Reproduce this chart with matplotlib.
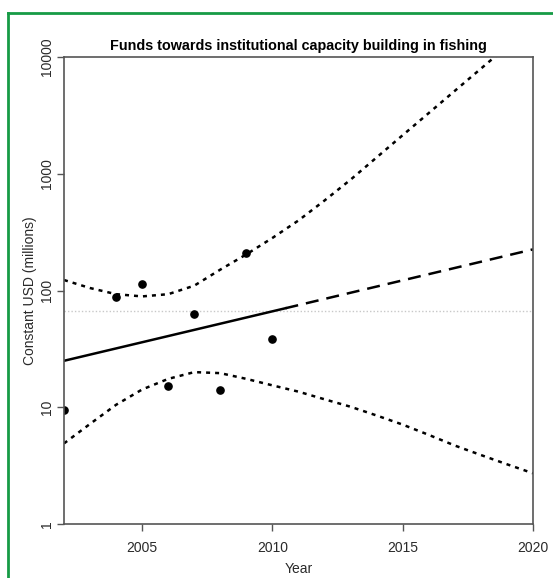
import matplotlib
matplotlib.use("Agg")
import matplotlib.pyplot as plt
from matplotlib.lines import Line2D
from matplotlib.ticker import NullLocator

# observed funding (constant USD, millions)
years = [2002, 2004, 2005, 2006, 2007, 2008, 2009, 2010]
funds = [9.4, 88.5, 113, 15.3, 63, 14.0, 211, 38.4]

# fitted trend: observed span (solid) and projection (dashed)
fit_years = [2002, 2010.5]
fit_vals = [25, 70.5]
proj_years = [2010.5, 2020]
proj_vals = [70.5, 225]

mean_funds = 66.5

# prediction band
band_years = list(range(2002, 2021))
upper_band = [123, 105, 93, 89, 93, 110, 151, 204, 282, 398, 590, 890,
              1380, 2140, 3310, 5130, 7940, 12300, 19000]
lower_band = [4.9, 7.2, 10.5, 14.2, 17.5, 20.0, 19.6, 17.5, 15.4, 13.6, 11.7,
              10.1, 8.5, 7.1, 5.8, 4.7, 3.9, 3.25, 2.72]

xticks = [2005, 2010, 2015, 2020]
yticks = [1, 10, 100, 1000, 10000]

plt.rcParams['font.family'] = ['Liberation Sans', 'DejaVu Sans']

fig = plt.figure(figsize=(5.53, 5.78), dpi=100)
ax = fig.add_axes([0.1157, 0.0934, 0.8481, 0.808])

ax.axhline(mean_funds, color='#c8c8c8', lw=1.0, ls=(0, (1, 1.5)))
ax.plot(band_years, upper_band, color='black', lw=1.8, ls=(0, (1.6, 2.0)))
ax.plot(band_years, lower_band, color='black', lw=1.8, ls=(0, (1.6, 2.0)))
ax.plot(fit_years, fit_vals, color='black', lw=1.8)
ax.plot(proj_years, proj_vals, color='black', lw=1.8, ls=(0, (5.2, 3.2)))
ax.plot(years, funds, 'o', color='black', ms=5.2)

ax.set_yscale('log')
ax.set_xlim(2002, 2020)
ax.set_ylim(1, 10000)
ax.set_xticks(xticks)
ax.set_xticklabels([str(t) for t in xticks])
ax.set_yticks(yticks)
ax.set_yticklabels([str(t) for t in yticks], rotation=90, va='center')
ax.yaxis.set_minor_locator(NullLocator())
ax.xaxis.set_minor_locator(NullLocator())
ax.tick_params(direction='out', length=5, width=1, colors='#555555',
               labelcolor='#2a2a2a', labelsize=10)
ax.tick_params(axis='x', pad=7)
ax.tick_params(axis='y', pad=2)
for s in ax.spines.values():
    s.set_color('#555555')
    s.set_linewidth(1.2)

ax.set_title('Funds towards institutional capacity building in fishing',
             fontsize=10.4, fontweight='bold', pad=5)
ax.set_xlabel('Year', fontsize=10, color='#2a2a2a', labelpad=5)
ax.set_ylabel('Constant USD (millions)', fontsize=10, color='#2a2a2a', labelpad=2)

# green frame (left and top edges visible in the crop)
fig.add_artist(Line2D([8 / 553, 8 / 553], [0, 1 - 13 / 578],
                      transform=fig.transFigure, color='#169b45', lw=2))
fig.add_artist(Line2D([8 / 553, 1], [1 - 13 / 578, 1 - 13 / 578],
                      transform=fig.transFigure, color='#169b45', lw=2))

fig.savefig('out.png', dpi=100)
